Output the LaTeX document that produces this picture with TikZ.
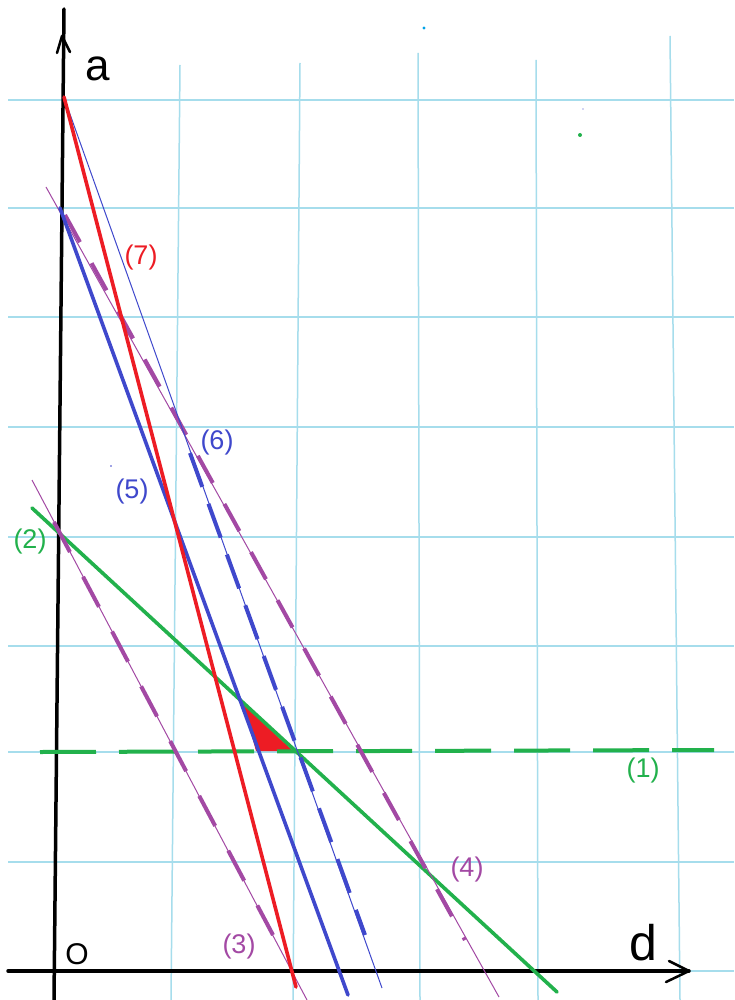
\documentclass[tikz,border=0pt]{standalone}
\usepackage{fontspec}
\setmainfont{Liberation Sans}
\definecolor{pgreen}{HTML}{22B14C}
\definecolor{pred}{HTML}{ED1C24}
\definecolor{pblue}{HTML}{3F48CC}
\definecolor{ppurple}{HTML}{A349A4}
\definecolor{gridblue}{HTML}{A6DDEC}
\definecolor{speckblue}{HTML}{00A2E8}
\tikzset{
  gridline/.style={draw=gridblue, line width=1.5pt},
  axisline/.style={draw=black, line width=3.5pt, line cap=round, line join=round},
  thickline/.style={line width=3.6pt, line cap=round},
  thinline/.style={line width=1pt},
  dashover/.style={line width=4pt, dash pattern=#1},
  lbl/.style={inner sep=0pt, font=\fontsize{27}{27}\selectfont},
  biglbl/.style={inner sep=0pt, font=\fontsize{44}{44}\selectfont},
}
\begin{document}
\begin{tikzpicture}[x=1pt,y=-1pt]
\useasboundingbox (0,0) rectangle (734,1000);
\fill[white] (0,0) rectangle (734,1000);

% grid
\foreach \yy in {100,208,317,427,537,646,752,862,971}
  \draw[gridline] (8,\yy) -- (734,\yy);
\draw[gridline] (180,65) -- (171,1000);
\draw[gridline] (300,63) -- (293,1000);
\draw[gridline] (418,53) -- (420,1000);
\draw[gridline] (536,60) -- (538,1000);
\draw[gridline] (670,36) -- (680,1000);

% stray specks
\fill[speckblue] (424,28) circle (1.6);
\fill[pblue] (583,109) circle (0.7);
\fill[pgreen] (580,135) circle (2);
\fill[pblue] (111,466) circle (0.8);

% axes
\coordinate (ybot) at (54,1000);
\coordinate (ytop) at (64,9);
\coordinate (xleft) at (8,971);
\coordinate (xright) at (689,971);
\draw[axisline] (ybot) -- (ytop);
\draw[axisline, line width=2.5pt] (57,53) -- (62,36) -- (70,52);
\draw[axisline] (xleft) -- (xright);
\draw[axisline, line width=2.5pt] (669,961) -- (xright) -- (666,982);

% feasible region
\fill[pred] (243,704) -- (256,751) -- (293,751) -- cycle;

% line (1): dashed horizontal
\coordinate (l1a) at (40,752);
\coordinate (l1b) at (714,750);
\draw[pgreen, line width=4pt, dash pattern=on 56pt off 23pt] (l1a) -- (l1b);

% line (2)
\coordinate (l2a) at (32,508);
\coordinate (l2b) at (557,992);
\draw[pgreen, thickline] (l2a) -- (l2b);

% line (3)
\coordinate (l3a) at (32,480);
\coordinate (l3b) at (307,1000);
\draw[ppurple, thinline] (l3a) -- (l3b);
\draw[ppurple, dashover={on 34pt off 28pt}] (54,522) -- (273,935);

% line (4)
\coordinate (l4a) at (46,187);
\coordinate (l4b) at (499,997);
\draw[ppurple, thinline] (l4a) -- (l4b);
\draw[ppurple, dashover={on 31pt off 24pt}] (65,215) -- (465,940);

% line (5)
\coordinate (l5a) at (60,208);
\coordinate (l5b) at (348,995);
\draw[pblue, thickline] (l5a) -- (l5b);

% line (6)
\coordinate (l6a) at (66,103);
\coordinate (l6b) at (382,988);
\draw[pblue, thinline] (l6a) -- (l6b);
\draw[pblue, dashover={on 36pt off 18pt}] (190,453) -- (365,935);

% line (7)
\coordinate (l7a) at (64,97);
\coordinate (l7b) at (296,987);
\draw[pred, thickline] (l7a) -- (l7b);

% labels
\node[biglbl] (alab) at (98,69) {a};
\node[biglbl, font=\fontsize{50}{50}\selectfont] (dlab) at (643,943) {d};
\node[lbl, font=\fontsize{30}{30}\selectfont] (olab) at (77,954) {O};
\node[lbl, text=pred] (lab7) at (141,258) {(7)};
\node[lbl, text=pblue] (lab6) at (217,443) {(6)};
\node[lbl, text=pblue] (lab5) at (132,492) {(5)};
\node[lbl, text=pgreen] (lab2) at (30,542) {(2)};
\node[lbl, text=pgreen] (lab1) at (643,771) {(1)};
\node[lbl, text=ppurple] (lab3) at (239,947) {(3)};
\node[lbl, text=ppurple] (lab4) at (467,870) {(4)};
\end{tikzpicture}
\end{document}
